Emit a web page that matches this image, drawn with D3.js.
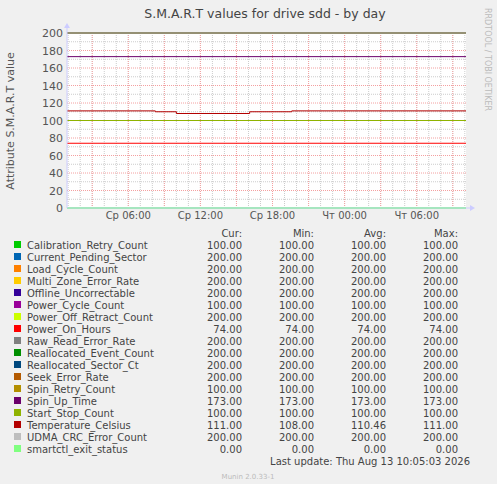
<!DOCTYPE html>
<html><head><meta charset="utf-8">
<script src="https://cdn.jsdelivr.net/npm/d3@7"></script>
<style>body{margin:0;background:#f0f0f0}svg{display:block}text{font-family:"DejaVu Sans",sans-serif}</style>
</head><body><svg id="c" width="497" height="484"></svg>
<script>
const names=["Calibration_Retry_Count","Current_Pending_Sector","Load_Cycle_Count","Multi_Zone_Error_Rate","Offline_Uncorrectable","Power_Cycle_Count","Power_Off_Retract_Count","Power_On_Hours","Raw_Read_Error_Rate","Reallocated_Event_Count","Reallocated_Sector_Ct","Seek_Error_Rate","Spin_Retry_Count","Spin_Up_Time","Start_Stop_Count","Temperature_Celsius","UDMA_CRC_Error_Count","smartctl_exit_status"];
const colors=["#00CC00","#0066B3","#FF8000","#FFCC00","#330099","#990099","#CCFF00","#FF0000","#808080","#008F00","#00487D","#B35A00","#B38F00","#6B006B","#8FB300","#B30000","#BEBEBE","#80FF80"];
const cur=[100,200,200,200,200,100,200,74,200,200,200,200,100,173,100,111,200,0];
const mins=[100,200,200,200,200,100,200,74,200,200,200,200,100,173,100,108,200,0];
const avgs=[100,200,200,200,200,100,200,74,200,200,200,200,100,173,100,110.46,200,0];
const maxs=[100,200,200,200,200,100,200,74,200,200,200,200,100,173,100,111,200,0];
const tempHours=[0,7.35,9.1,15.2,18.7,33.2];
const tempVals=[111,110,108,110,111,111];
const yTicks=[0,20,40,60,80,100,120,140,160,180,200];
const xTickLabels=["Ср 06:00","Ср 12:00","Ср 18:00","Чт 00:00","Чт 06:00"];
const xTickHours=[5.1,11.1,17.1,23.1,29.1];
const spanHours=33.2;

const svg=d3.select("#c");
const L=67,R=466,T=33,B=208;
const x=d3.scaleLinear().domain([0,spanHours]).range([L,R]);
const y=d3.scaleLinear().domain([0,200]).range([B,T]);
svg.append("rect").attr("x",L).attr("y",T).attr("width",R-L).attr("height",B-T).attr("fill","#fff");
const g=svg.append("g");
for(let h=0.1;h<spanHours;h+=1){g.append("line").attr("x1",x(h)).attr("x2",x(h)).attr("y1",T).attr("y2",B).attr("stroke","#ccc").attr("stroke-dasharray","1,1");}
for(let v=10;v<=200;v+=20){g.append("line").attr("x1",L).attr("x2",R).attr("y1",y(v)).attr("y2",y(v)).attr("stroke","#ccc").attr("stroke-dasharray","1,1");}
for(let h=2.1;h<spanHours;h+=3){g.append("line").attr("x1",x(h)).attr("x2",x(h)).attr("y1",T).attr("y2",B).attr("stroke","#f4a0a0").attr("stroke-dasharray","1,1");}
yTicks.forEach(v=>{g.append("line").attr("x1",L).attr("x2",R).attr("y1",y(v)).attr("y2",y(v)).attr("stroke","#f4a0a0").attr("stroke-dasharray","1,1");
 svg.append("text").attr("x",L-4).attr("y",y(v)+4).attr("text-anchor","end").attr("font-size",11).attr("fill","#555").text(v);});
xTickHours.forEach((h,i)=>svg.append("text").attr("x",x(h)).attr("y",219).attr("text-anchor","middle").attr("font-size",10).attr("fill","#555").text(xTickLabels[i]));
const line=d3.line().x(d=>x(d[0])).y(d=>y(d[1])).curve(d3.curveStepAfter);
names.forEach((n,i)=>{
 let pts;
 if(n==="Temperature_Celsius") pts=tempHours.map((h,j)=>[h,tempVals[j]]);
 else pts=[[0,cur[i]],[spanHours,cur[i]]];
 svg.append("path").attr("d",line(pts)).attr("fill","none").attr("stroke",colors[i]).attr("stroke-width",n==="smartctl_exit_status"?2:1);
});
svg.append("line").attr("x1",L).attr("x2",R+6).attr("y1",B).attr("y2",B).attr("stroke","#ccf");
svg.append("line").attr("x1",L).attr("x2",L).attr("y1",B).attr("y2",T-6).attr("stroke","#ccf");
svg.append("path").attr("d",`M${R+9},${B}l-5,-3v6z`).attr("fill","#ccf");
svg.append("path").attr("d",`M${L},${T-10}l-3,5h6z`).attr("fill","#ccf");
svg.append("text").attr("x",265).attr("y",18).attr("text-anchor","middle").attr("font-size",12.5).attr("fill","#444").text("S.M.A.R.T values for drive sdd - by day");
svg.append("text").attr("transform","translate(14,121) rotate(-90)").attr("text-anchor","middle").attr("font-size",11).attr("fill","#555").text("Attribute S.M.A.R.T value");
svg.append("text").attr("transform","translate(485,8) rotate(90)").attr("font-size",8).attr("fill","#bbb").text("RRDTOOL / TOBI OETIKER");
const mono='"DejaVu Sans Mono",monospace';
const cols=[[242,"Cur:",cur],[314,"Min:",mins],[386,"Avg:",avgs],[458,"Max:",maxs]];
cols.forEach(c=>svg.append("text").attr("x",c[0]).attr("y",237).attr("text-anchor","end").attr("font-family",mono).attr("font-size",10).attr("fill","#444").text(c[1]));
names.forEach((n,i)=>{
 const yy=249+i*12;
 svg.append("rect").attr("x",14).attr("y",yy-8).attr("width",7).attr("height",7).attr("fill",colors[i]);
 svg.append("text").attr("x",27).attr("y",yy).attr("font-family",mono).attr("font-size",10).attr("fill","#444").text(n);
 cols.forEach(c=>svg.append("text").attr("x",c[0]).attr("y",yy).attr("text-anchor","end").attr("font-family",mono).attr("font-size",10).attr("fill","#444").text(c[2][i].toFixed(2)));
});
svg.append("text").attr("x",470).attr("y",465).attr("text-anchor","end").attr("font-family",mono).attr("font-size",10).attr("fill","#444").text("Last update:  Thu Aug 13 10:05:03 2026");
svg.append("text").attr("x",248).attr("y",479).attr("text-anchor","middle").attr("font-size",7).attr("fill","#bbb").text("Munin 2.0.33-1");
</script></body></html>
